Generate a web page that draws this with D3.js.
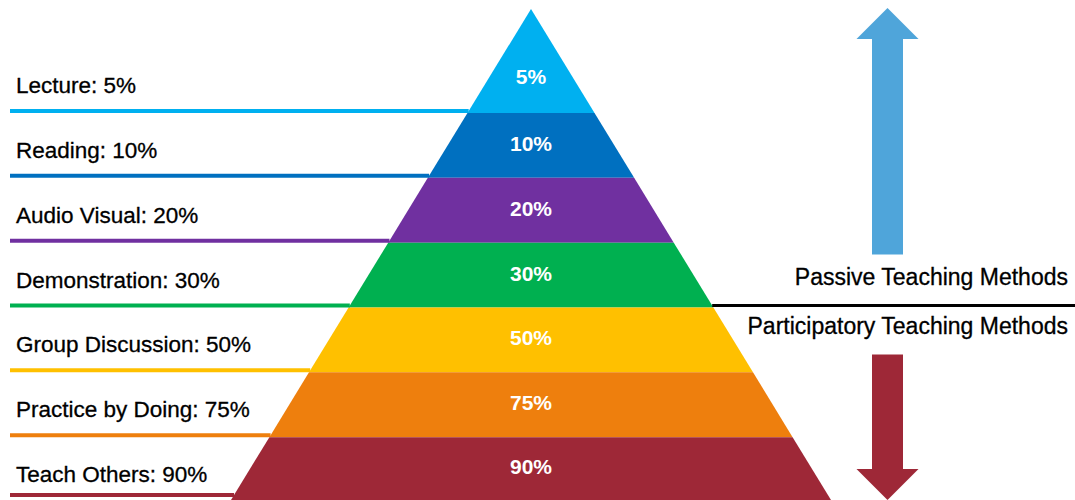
<!DOCTYPE html>
<html>
<head>
<meta charset="utf-8">
<script src="https://cdn.jsdelivr.net/npm/d3@7"></script>
<style>
  body { margin: 0; background: #fff; }
  text { font-family: "Liberation Sans", Arial, sans-serif; }
</style>
</head>
<body>
<script>
let w = 1075;
let h = 500;

// data
var methods = ["Lecture", "Reading", "Audio Visual", "Demonstration", "Group Discussion", "Practice by Doing", "Teach Others"];
var retention = [5, 10, 20, 30, 50, 75, 90];
var bandColors = ["#00B0F0", "#0070C0", "#7030A0", "#00B050", "#FFC000", "#EE7F0D", "#9E2837"];
var groupLabels = ["Passive Teaching Methods", "Participatory Teaching Methods"];
var groupColors = ["#4FA5DA", "#9E2837"];

// layout
let apexX = 531;
let apexY = 9;
let splitIndex = 3; // passive / participatory split after Demonstration

let svg = d3.select("body").append("svg").attr("width", w).attr("height", h);

// band bottoms
let yScale = d3.scaleLinear().domain([0, methods.length - 1]).range([113, 502]);
// half width of pyramid by y
let halfW = d3.scaleLinear().domain([apexY, 500]).range([0, 300]);

var bands = methods.map(function(m, i) {
    var last = i == methods.length - 1;
    return {
        name: m,
        value: retention[i],
        color: bandColors[i],
        top: i == 0 ? apexY : yScale(i - 1),
        bottom: last ? h + 20 : yScale(i),
        mid: i == 0 ? apexY + (yScale(0) - apexY) * 2 / 3 : (yScale(i - 1) + Math.min(yScale(i), h)) / 2,
        line: last ? h - 5 : yScale(i) - 2
    };
});

// pyramid bands
svg.selectAll("path.band")
    .data(bands)
    .enter()
    .append("path")
    .attr("class", "band")
    .attr("fill", function(d) { return d.color; })
    .attr("d", function(d) {
        var t = halfW(d.top), b = halfW(d.bottom);
        return `M${apexX - t} ${d.top} L${apexX + t} ${d.top} L${apexX + b} ${d.bottom} L${apexX - b} ${d.bottom} Z`;
    });

// percent labels inside
svg.selectAll("text.pct")
    .data(bands)
    .enter()
    .append("text")
    .attr("class", "pct")
    .attr("x", apexX)
    .attr("y", function(d) { return d.mid; })
    .attr("text-anchor", "middle")
    .attr("dominant-baseline", "middle")
    .style("font-size", "21px")
    .style("font-weight", "bold")
    .style("fill", "#fff")
    .text(function(d) { return d.value + "%"; });

// leader lines on the left
svg.selectAll("line.leader")
    .data(bands)
    .enter()
    .append("line")
    .attr("class", "leader")
    .attr("x1", 10)
    .attr("x2", function(d) { return apexX - halfW(d.line); })
    .attr("y1", function(d) { return d.line; })
    .attr("y2", function(d) { return d.line; })
    .attr("stroke", function(d) { return d.color; })
    .attr("stroke-width", 4);

svg.selectAll("text.label")
    .data(bands)
    .enter()
    .append("text")
    .attr("class", "label")
    .attr("x", 16)
    .attr("y", function(d, i) { return d.line - (i == methods.length - 1 ? 13 : 18); })
    .style("font-size", "22.5px")
    .style("fill", "#000")
    .style("stroke", "#000")
    .style("stroke-width", 0.3)
    .text(function(d) { return d.name + ": " + d.value + "%"; });

// divider on the right
let divY = bands[splitIndex].line;
svg.append("line")
    .attr("x1", apexX + halfW(divY))
    .attr("x2", w)
    .attr("y1", divY)
    .attr("y2", divY)
    .attr("stroke", "#000")
    .attr("stroke-width", 3);

svg.selectAll("text.group")
    .data(groupLabels)
    .enter()
    .append("text")
    .attr("class", "group")
    .attr("x", 1068)
    .attr("y", function(d, i) { return i == 0 ? divY - 21 : divY + 28; })
    .attr("text-anchor", "end")
    .style("font-size", "23px")
    .style("stroke", "#000")
    .style("stroke-width", 0.3)
    .text(function(d) { return d; });

// arrows
let ax = 887.5, shaft = 15.5, head = 31, headH = 31;
let upTop = 8, upBottom = divY - 51;
svg.append("path")
    .attr("fill", groupColors[0])
    .attr("d", `M${ax} ${upTop} L${ax + head} ${upTop + headH} L${ax + shaft} ${upTop + headH} L${ax + shaft} ${upBottom} L${ax - shaft} ${upBottom} L${ax - shaft} ${upTop + headH} L${ax - head} ${upTop + headH} Z`);

let dnTop = divY + 49, dnBottom = 500;
svg.append("path")
    .attr("fill", groupColors[1])
    .attr("d", `M${ax} ${dnBottom} L${ax + head} ${dnBottom - headH} L${ax + shaft} ${dnBottom - headH} L${ax + shaft} ${dnTop} L${ax - shaft} ${dnTop} L${ax - shaft} ${dnBottom - headH} L${ax - head} ${dnBottom - headH} Z`);
</script>
</body>
</html>
